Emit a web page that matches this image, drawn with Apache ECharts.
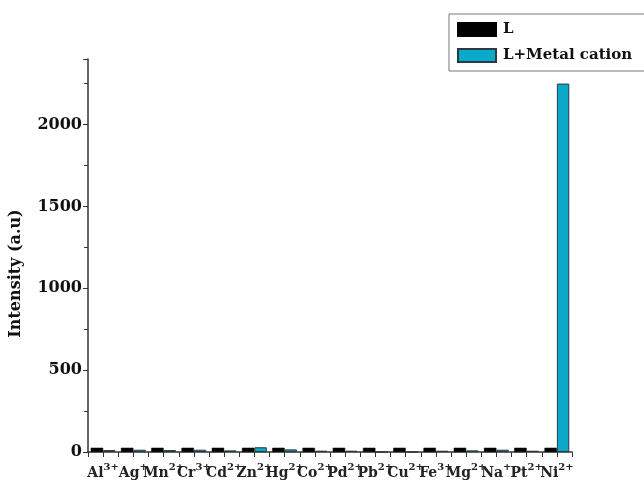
<!DOCTYPE html>
<html>
<head>
<meta charset="utf-8">
<script src="https://cdn.jsdelivr.net/npm/echarts@6/dist/echarts.min.js"></script>
<style>html,body{margin:0;padding:0;background:#fff;}#c{width:644px;height:482px;}</style>
</head>
<body>
<div id="c"></div>
<script>
const categories = ['Al','Ag','Mn','Cr','Cd','Zn','Hg','Co','Pd','Pb','Cu','Fe','Mg','Na','Pt','Ni'];
const charges = ['3+','+','2+','3+','2+','2+','2+','2+','2+','2+','2+','3+','2+','+','2+','2+'];
const seriesL = [26,26,26,26,26,26,26,26,26,26,26,26,26,26,26,26];
const seriesLM = [12,14,12,14,10,29,16,8,8,0,0,8,10,14,8,2250];
const yTicks = [0,500,1000,1500,2000];

const font = '"DejaVu Serif", "Liberation Serif", serif';
const chart = echarts.init(document.getElementById('c'));
chart.setOption({
  animation: false,
  backgroundColor: '#fff',
  grid: {left: 86, right: 72, top: 59, bottom: 30, containLabel: false},
  legend: {
    orient: 'vertical',
    left: 449, top: 14,
    padding: [8, 40, 8, 8],
    itemWidth: 38, itemHeight: 13, itemGap: 11,
    icon: 'rect',
    borderColor: '#777', borderWidth: 1,
    textStyle: {fontFamily: font, fontWeight: 'bold', fontSize: 15, color: '#111', padding: [0,0,0,2]},
    data: ['L', 'L+Metal cation']
  },
  xAxis: [{
    type: 'category',
    data: categories,
    boundaryGap: true,
    axisLine: {lineStyle: {color: '#333', width: 1.5}},
    axisTick: {show: true, inside: false, length: 5, lineStyle: {color: '#333'}},
    axisLabel: {
      interval: 0, margin: 10,
      formatter: function (v, i) { return '{b|' + v + '}{s|' + charges[i] + '}'; },
      rich: {
        b: {fontFamily: font, fontWeight: 'bold', fontSize: 14, color: '#222'},
        s: {fontFamily: font, fontWeight: 'bold', fontSize: 10, color: '#222', padding: [0, 0, 12, 0]}
      }
    }
  }, {
    type: 'category',
    data: categories,
    position: 'bottom',
    boundaryGap: true,
    axisLine: {show: false},
    axisTick: {show: true, alignWithLabel: true, length: 5, lineStyle: {color: '#333'}},
    axisLabel: {show: false}
  }],
  yAxis: {
    type: 'value',
    min: 0, max: 2400, interval: 500,
    name: 'Intensity (a.u)',
    nameLocation: 'middle', nameGap: 64, nameRotate: 90,
    nameTextStyle: {fontFamily: font, fontWeight: 'bold', fontSize: 16, color: '#111', padding: [0, 36, 0, 0]},
    axisLine: {show: true, lineStyle: {color: '#333', width: 1.5}},
    axisTick: {show: true, length: 5, lineStyle: {color: '#333'}},
    minorTick: {show: true, splitNumber: 2, length: 4, lineStyle: {color: '#333'}},
    splitLine: {show: false},
    axisLabel: {
      fontFamily: font, fontWeight: 'bold', fontSize: 16, color: '#111', margin: 6,
      formatter: function (v) { return yTicks.indexOf(v) >= 0 ? String(v) : ''; }
    }
  },
  series: [{
    name: 'L', type: 'bar', data: seriesL,
    barGap: '0%', barCategoryGap: '18%',
    itemStyle: {color: '#000', borderColor: '#000', borderWidth: 0.5}
  }, {
    name: 'L+Metal cation', type: 'bar', data: seriesLM,
    barGap: '0%', barCategoryGap: '18%',
    itemStyle: {color: '#0aa9c9', borderColor: '#2a3a40', borderWidth: 1}
  }]
});
</script>
</body>
</html>
